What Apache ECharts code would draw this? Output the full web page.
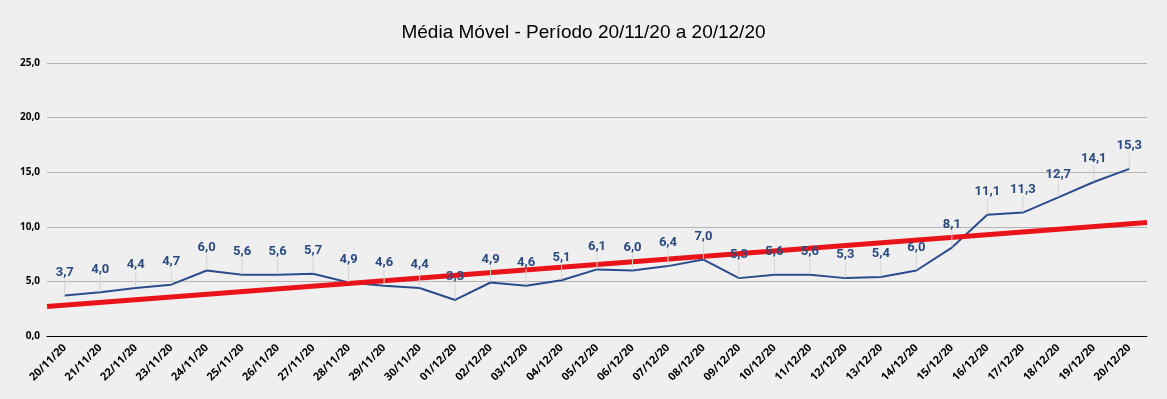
<!DOCTYPE html>
<html>
<head>
<meta charset="utf-8">
<script src="https://cdn.jsdelivr.net/npm/echarts@6/dist/echarts.min.js"></script>
<style>
  html, body { margin: 0; padding: 0; background: #efefef; }
  #chart { width: 1167px; height: 399px; }
</style>
</head>
<body>
<div id="chart"></div>
<script>
// dias do período
var dias = [
  "20/11/20", "21/11/20", "22/11/20", "23/11/20", "24/11/20", "25/11/20", "26/11/20",
  "27/11/20", "28/11/20", "29/11/20", "30/11/20", "01/12/20", "02/12/20", "03/12/20",
  "04/12/20", "05/12/20", "06/12/20", "07/12/20", "08/12/20", "09/12/20", "10/12/20",
  "11/12/20", "12/12/20", "13/12/20", "14/12/20", "15/12/20", "16/12/20", "17/12/20",
  "18/12/20", "19/12/20", "20/12/20"
];
// média móvel
var mediaMovel = [
  3.7, 4.0, 4.4, 4.7, 6.0, 5.6, 5.6, 5.7, 4.9, 4.6, 4.4, 3.3, 4.9, 4.6, 5.1, 6.1,
  6.0, 6.4, 7.0, 5.3, 5.6, 5.6, 5.3, 5.4, 6.0, 8.1, 11.1, 11.3, 12.7, 14.1, 15.3
];
// linha de tendência (início e fim da área do gráfico)
var tendencia = [2.7, 10.4];
var yTicks = [0, 5, 10, 15, 20, 25];

function fmt(v) {
  return Number(v).toFixed(1).replace(".", ",");
}

var chart = echarts.init(document.getElementById("chart"));
chart.setOption({
  backgroundColor: "#efefef",
  animation: false,
  title: {
    text: "Média Móvel - Período 20/11/20 a 20/12/20",
    left: "center",
    top: 18,
    textStyle: {
      fontFamily: "Liberation Sans, Arial, sans-serif",
      fontWeight: "normal",
      fontSize: 19,
      color: "#000"
    }
  },
  grid: { left: 47, right: 20, top: 63, bottom: 63 },
  xAxis: [
    {
      type: "category",
      data: dias,
      boundaryGap: true,
      axisLine: { lineStyle: { color: "#000", width: 1 } },
      axisTick: { show: false },
      axisLabel: {
        rotate: 45,
        interval: 0,
        margin: 10,
        color: "#000",
        fontWeight: "bold",
        fontSize: 11,
        fontFamily: "Open Sans, sans-serif"
      }
    },
    {
      type: "value",
      min: 0,
      max: 1,
      show: false
    }
  ],
  yAxis: {
    type: "value",
    min: yTicks[0],
    max: yTicks[yTicks.length - 1],
    interval: 5,
    axisLine: { show: false },
    axisTick: { show: false },
    splitLine: { lineStyle: { color: "#b4b4b4", width: 1 } },
    axisLabel: {
      formatter: fmt,
      margin: 7,
      color: "#000",
      fontWeight: "bold",
      fontSize: 10,
      fontFamily: "Open Sans, sans-serif"
    }
  },
  series: [
    {
      name: "Média Móvel",
      type: "line",
      data: mediaMovel,
      z: 2,
      symbol: "none",
      lineStyle: { color: "#2b4c8c", width: 2 }
    },
    {
      name: "Tendência",
      type: "line",
      xAxisIndex: 1,
      data: [[0, tendencia[0]], [1, tendencia[1]]],
      z: 3,
      symbol: "none",
      lineStyle: { color: "#e8141a", width: 5 }
    },
    {
      name: "Rótulos",
      type: "line",
      data: mediaMovel,
      z: 4,
      symbol: "circle",
      symbolSize: 1,
      itemStyle: { color: "rgba(0,0,0,0)" },
      lineStyle: { width: 0, color: "rgba(0,0,0,0)" },
      label: {
        show: true,
        position: "top",
        distance: 4,
        formatter: function (p) { return fmt(p.value); },
        color: "#2a4a80",
        fontWeight: "bold",
        fontSize: 13,
        fontFamily: "Roboto, sans-serif"
      },
      labelLayout: { dy: -12 },
      labelLine: { show: true, lineStyle: { color: "#d4d4d4", width: 1 } }
    }
  ]
});
</script>
</body>
</html>
